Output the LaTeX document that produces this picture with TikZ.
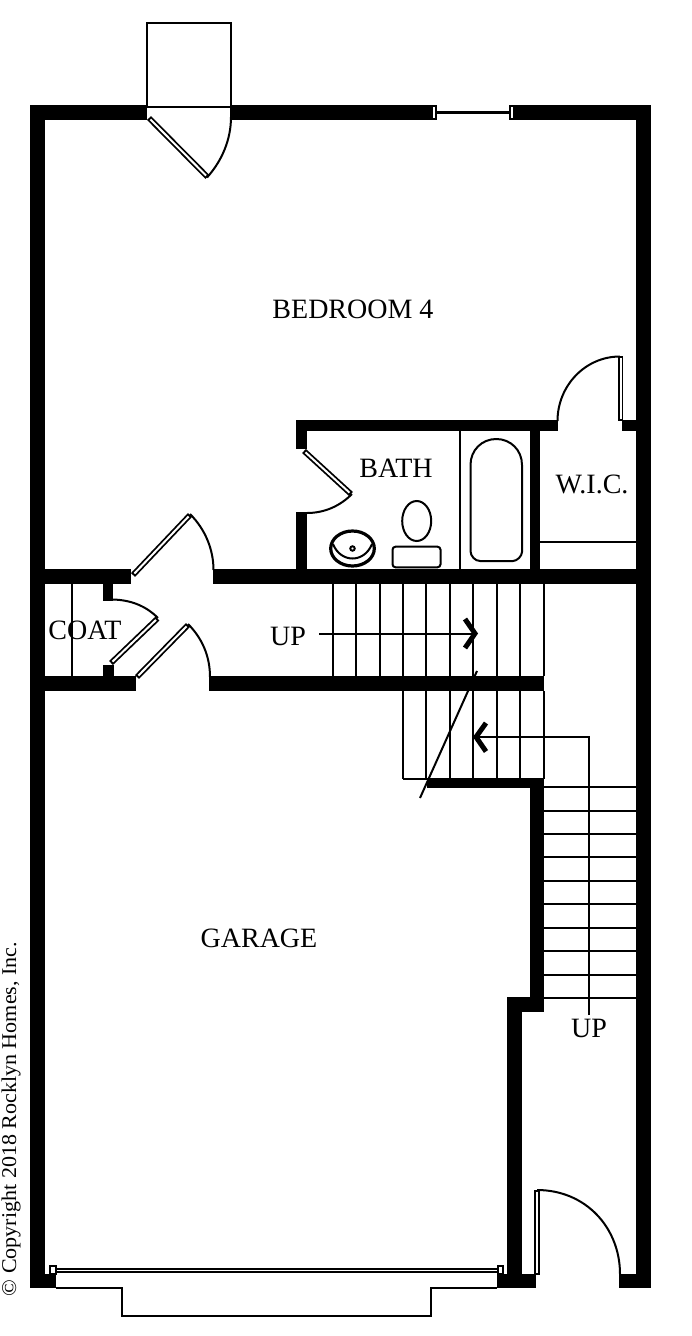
\documentclass[tikz,border=0pt]{standalone}
\usepackage{fontspec}
\setmainfont{Liberation Serif}
\tikzset{
  wall/.style={fill=black,draw=none},
  thin/.style={draw=black,line width=2pt},
  leafout/.style={draw=black,line width=5.6pt},
  leafin/.style={draw=white,line width=2pt,shorten >=2pt,shorten <=2pt},
  swing/.style={draw=black,line width=2pt},
  chev/.style={draw=black,line width=5pt,miter limit=3},
  lbl/.style={inner sep=0pt,text=black,font=\fontsize{28}{28}\selectfont},
}
\newcommand{\doorleaf}[2]{\draw[leafout] #1 -- #2; \draw[leafin] #1 -- #2;}
\begin{document}
\begin{tikzpicture}[x=1pt,y=-1pt]
\useasboundingbox (0,0) rectangle (692,1336);
% doors' leaves sit under the walls
\doorleaf{(149,118)}{(207.5,177)}
\doorleaf{(133,575)}{(190,515)}
\doorleaf{(137,677)}{(188,625)}
\doorleaf{(111,663)}{(157.5,618.5)}
\doorleaf{(304,451)}{(351,494)}
\doorleaf{(620.5,356)}{(620.5,421)}
\doorleaf{(537,1189.5)}{(537,1275)}
% outer walls
\fill[wall] (30,105) rectangle (147,120);
\fill[wall] (231,105) rectangle (431,120);
\fill[wall] (510,105) rectangle (651,120);
\fill[wall] (30,105) rectangle (45,1288);
\fill[wall] (636,105) rectangle (651,1288);
\fill[wall] (30,1274) rectangle (56,1288);
\fill[wall] (497,1274) rectangle (536,1288);
\fill[wall] (619,1274) rectangle (651,1288);
% mid walls
\fill[wall] (45,569) rectangle (131,584);
\fill[wall] (213,569) rectangle (636,584);
\fill[wall] (45,676) rectangle (136,691);
\fill[wall] (209,676) rectangle (544,691);
\fill[wall] (103,584) rectangle (113,600.5);
\fill[wall] (103,665) rectangle (114,676);
% bath
\fill[wall] (296,420) rectangle (557.5,431);
\fill[wall] (296,420) rectangle (307,449);
\fill[wall] (296,512) rectangle (307,569);
\fill[wall] (530,431) rectangle (540,569);
\fill[wall] (622,420) rectangle (636,431);
% stair walls
\fill[wall] (427,778) rectangle (544,788);
\fill[wall] (530,778) rectangle (544,1012);
\fill[wall] (507,997) rectangle (544,1012);
\fill[wall] (507,997) rectangle (522,1288);
% top bump and window
\draw[thin] (147,107) -- (147,23) -- (231,23) -- (231,107);
\draw[thin] (147,106.5) -- (231,106.5);
\draw[draw=black,line width=2.5pt] (436,112.5) -- (509,112.5);
\draw[thin,fill=white] (431.8,105.8) rectangle (435.7,119.2);
\draw[thin,fill=white] (509.8,105.8) rectangle (513.7,119.2);
% door swings
\draw[swing] (231,107) -- (231,117) .. controls (231,139.3) and (222.2,160.6) .. (207,177.5);
\draw[swing] (190,514) .. controls (205.6,529.6) and (213.5,550) .. (213.5,570);
\draw[swing] (188,624) .. controls (202,638) and (210,656) .. (210,677);
\draw[swing] (113,599.5) .. controls (130.5,600) and (145.6,605.6) .. (158,618);
\draw[swing] (307,513) .. controls (324,513) and (339.6,506.4) .. (352,494);
\draw[swing] (557.5,421) .. controls (557.5,386) and (585,356.5) .. (620,356.5);
\draw[swing] (537,1190) .. controls (586,1190) and (620,1228) .. (620,1274);
% closet rod
\draw[thin] (72,584) -- (72,676);
% bath fixtures
\draw[thin] (460,430) -- (460,569);
\draw[thin] (540,541.7) -- (636,541.7);
\draw[thin] (470.5,465) .. controls (470.5,450) and (482,439) .. (496.3,439)
  .. controls (510.5,439) and (522,450) .. (522,465) -- (522,552)
  .. controls (522,556) and (517,561) .. (513,561) -- (480,561)
  .. controls (475,561) and (470.5,556) .. (470.5,551) -- cycle;
\draw[thin] (416.7,521) ellipse[x radius=14.5,y radius=20];
\draw[thin,rounded corners=3pt] (392.5,546.7) rectangle (440.5,567.3);
\draw[draw=black,line width=3.2pt] (352.5,548.5) ellipse[x radius=21.8,y radius=17.5];
\draw[swing] (333,544) .. controls (337,554) and (345,558.5) .. (352.5,558.5) .. controls (360,558.5) and (368,554) .. (372,544);
\draw[thin] (352.5,548.5) circle[radius=2.2];
% stairs
\foreach \sx in {332.7,356,380,403,426,450,473,497,520,544}
  \draw[thin] (\sx,584) -- (\sx,676);
\foreach \sx in {403,426,450,473,497,520,544}
  \draw[thin] (\sx,691) -- (\sx,779);
\draw[thin] (403,779) -- (427,779);
\foreach \sy in {786.7,810.7,833.7,857,880.5,904,927.7,951,974.7,998}
  \draw[thin] (544,\sy) -- (636,\sy);
\draw[thin] (319,633.5) -- (474,633.5);
\draw[chev] (465,619) -- (475,633.5) -- (465,648);
\draw[thin] (589,1015) -- (589,737) -- (476,737);
\draw[chev] (486,723) -- (476,737) -- (486,751.5);
\draw[draw=black,line width=2pt] (477,671) -- (420,798);
% garage door
\draw[thin] (56,1288) -- (122,1288) -- (122,1316) -- (431,1316) -- (431,1288) -- (497,1288);
\draw[thin] (56,1268.5) -- (497,1268.5);
\draw[thin] (56,1272) -- (497,1272);
\draw[thin,fill=white] (50,1265.7) rectangle (55.5,1274);
\draw[thin,fill=white] (497.7,1265.7) rectangle (503.3,1274);
% labels
\node[lbl] (bedroom) at (353,309) {BEDROOM 4};
\node[lbl] (bath) at (396,468) {BATH};
\node[lbl] (wic) at (592,484) {W.I.C.};
\node[lbl] (coat) at (85,630) {COAT};
\node[lbl] (up1) at (288,636) {UP};
\node[lbl] (up2) at (589,1028) {UP};
\node[lbl] (garage) at (259,938) {GARAGE};
\node[inner sep=0pt,rotate=90,font=\fontsize{21}{21}\selectfont] (copy) at (11,1119) {\scalebox{1.05}[1]{© Copyright 2018 Rocklyn Homes, Inc.}};
\end{tikzpicture}
\end{document}
